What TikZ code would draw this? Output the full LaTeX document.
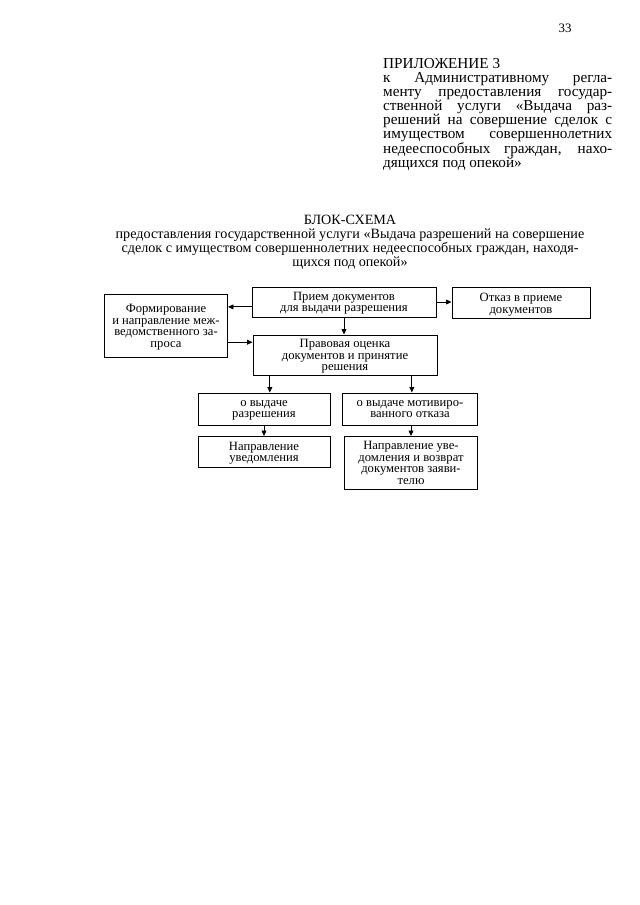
\documentclass[tikz,border=0pt]{standalone}
\usepackage{fontspec}
\setmainfont{Liberation Serif}
\usetikzlibrary{arrows.meta,positioning,calc}
\newdimen\px
\px=0.328125mm

\begin{document}
\begin{tikzpicture}[
  x=\px, y=-\px,
  font=\fontsize{11.8}{10.9}\selectfont,
  stepbox/.style={rectangle, draw=black, line width=0.9pt, align=center,
                  inner sep=1pt, text depth=-2pt},
  arr/.style={-{Triangle[length=1.8mm, width=1.6mm]}, line width=0.8pt},
  hdr/.style={font=\fontsize{13.2}{13.1}\selectfont},
  appx/.style={font=\fontsize{14.2}{13.1}\selectfont},
]
% ---------- page
\path[use as bounding box] (0,0) rectangle (640,905);
\node (pagenum) at (565,28) {\fontsize{12}{12}\selectfont 33};

% ---------- appendix heading
\node[appx, anchor=north west, text width=229\px, align=justify, inner sep=0pt]
  (appx) at (383,58)
  {ПРИЛОЖЕНИЕ 3\\
   к Административному регла-\linebreak
   менту предоставления государ-\linebreak
   ственной услуги «Выдача раз-\linebreak
   решений на совершение сделок с\linebreak
   имуществом совершеннолетних\linebreak
   недееспособных граждан, нахо-\linebreak
   дящихся под опекой»};

% ---------- title
\node[hdr, anchor=north, align=center, inner sep=0pt] (title) at (350,215)
  {БЛОК-СХЕМА\\
   предоставления государственной услуги «Выдача разрешений на совершение\\
   сделок с имуществом совершеннолетних недееспособных граждан, находя-\\
   щихся под опекой»};

% ---------- boxes
\node[stepbox, minimum width=184\px, minimum height=30\px] (priem)  at (344,302) {Прием документов\\для выдачи разрешения};
\node[stepbox, minimum width=138\px, minimum height=31\px] (otkaz)  at (521,303) {Отказ в приеме\\документов};
\node[stepbox, minimum width=123\px, minimum height=63\px] (form)   at (166,326) {Формирование\\и направление меж-\\ведомственного за-\\проса};
\node[stepbox, minimum width=184\px, minimum height=40\px] (ocenka) at (345,355) {Правовая оценка\\документов и принятие\\решения};
\node[stepbox, minimum width=132\px, minimum height=32\px] (razr)   at (264,409) {о выдаче\\разрешения};
\node[stepbox, minimum width=135\px, minimum height=32\px] (motiv)  at (410,409) {о выдаче мотивиро-\\ванного отказа};
\node[stepbox, minimum width=132\px, minimum height=31\px] (uved)   at (264,452) {Направление\\уведомления};
\node[stepbox, minimum width=133\px, minimum height=53\px] (vozvr)  at (411,463) {Направление уве-\\домления и возврат\\документов заяви-\\телю};

% ---------- connectors
\draw[arr] ([yshift=-1.6mm]priem.west) -- ([yshift=-1.6mm]priem.west -| form.east);
\draw[arr] ([yshift=4.2mm]ocenka.west -| form.east) -- ([yshift=4.2mm]ocenka.west);
\draw[arr] (priem.south) -- (priem.south |- ocenka.north);
\draw[arr] (priem.east) -- (priem.east -| otkaz.west);
\draw[arr] ([xshift=1.9mm]razr.north |- ocenka.south) -- ([xshift=1.9mm]razr.north);
\draw[arr] ([xshift=0.6mm]motiv.north |- ocenka.south) -- ([xshift=0.6mm]motiv.north);
\draw[arr] (razr.south) -- (uved.north);
\draw[arr] (motiv.south -| vozvr.north) -- (vozvr.north);
\end{tikzpicture}
\end{document}
